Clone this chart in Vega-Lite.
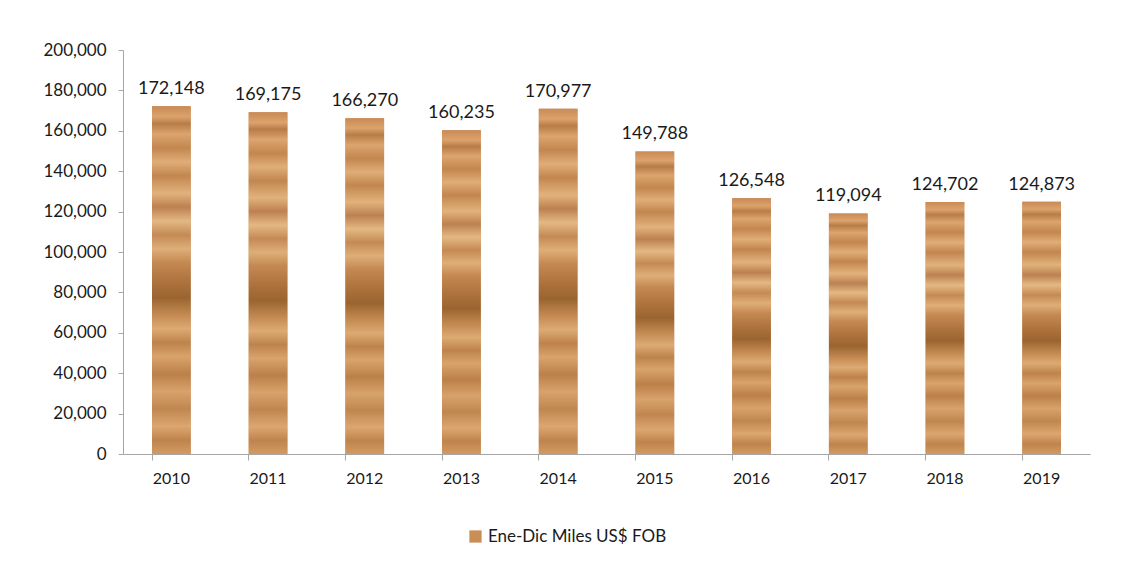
{
  "$schema": "https://vega.github.io/schema/vega-lite/v6.json",
  "width": 967,
  "height": 404,
  "autosize": {"type": "none"},
  "padding": {"left": 123, "top": 50, "right": 40, "bottom": 107},
  "background": "white",
  "config": {
    "view": {"stroke": null},
    "font": "Lato",
    "axis": {"domainColor": "#A6A6A6", "tickColor": "#A6A6A6", "labelColor": "#1a1a1a", "grid": false, "titleFontWeight": "normal"}
  },
  "data": {
    "values": [
      {"year": "2010", "value": 172148, "series": "Ene-Dic Miles US$ FOB"},
      {"year": "2011", "value": 169175, "series": "Ene-Dic Miles US$ FOB"},
      {"year": "2012", "value": 166270, "series": "Ene-Dic Miles US$ FOB"},
      {"year": "2013", "value": 160235, "series": "Ene-Dic Miles US$ FOB"},
      {"year": "2014", "value": 170977, "series": "Ene-Dic Miles US$ FOB"},
      {"year": "2015", "value": 149788, "series": "Ene-Dic Miles US$ FOB"},
      {"year": "2016", "value": 126548, "series": "Ene-Dic Miles US$ FOB"},
      {"year": "2017", "value": 119094, "series": "Ene-Dic Miles US$ FOB"},
      {"year": "2018", "value": 124702, "series": "Ene-Dic Miles US$ FOB"},
      {"year": "2019", "value": 124873, "series": "Ene-Dic Miles US$ FOB"}
    ]
  },
  "encoding": {
    "x": {
      "field": "year", "type": "ordinal",
      "scale": {"paddingInner": 0.6, "paddingOuter": 0.3},
      "axis": null
    },
    "y": {
      "field": "value", "type": "quantitative",
      "scale": {"domain": [0, 200000], "nice": false},
      "axis": {"values": [0, 20000, 40000, 60000, 80000, 100000, 120000, 140000, 160000, 180000, 200000], "format": ",d", "title": null, "labelFontSize": 17, "tickSize": 5, "labelPadding": 12}
    }
  },
  "layer": [
    {
      "mark": {"type": "bar"},
      "encoding": {
        "color": {
          "field": "series", "type": "nominal",
          "scale": {"range": ["#C98D58"]},
          "legend": {
            "orient": "none", "legendX": 344, "legendY": 478,
            "title": null, "symbolType": "square", "symbolSize": 150,
            "labelFontSize": 17, "labelLimit": 0, "labelColor": "#1a1a1a", "symbolStrokeWidth": 0
          }
        }
      }
    },
    {
      "mark": {
        "type": "bar",
        "color": {
          "gradient": "linear", "x1": 0, "y1": 0, "x2": 0, "y2": 1,
          "stops": [
            {"offset": 0, "color": "#C98A56"},
            {"offset": 0.03, "color": "#DCA26C"},
            {"offset": 0.05, "color": "#B87C48"},
            {"offset": 0.08, "color": "#DCA46E"},
            {"offset": 0.12, "color": "#C3864F"},
            {"offset": 0.16, "color": "#E0AD78"},
            {"offset": 0.2, "color": "#C28650"},
            {"offset": 0.25, "color": "#E2B27C"},
            {"offset": 0.29, "color": "#BC8150"},
            {"offset": 0.33, "color": "#E4B883"},
            {"offset": 0.37, "color": "#C48A55"},
            {"offset": 0.41, "color": "#DFAE78"},
            {"offset": 0.45, "color": "#C48852"},
            {"offset": 0.5, "color": "#B07440"},
            {"offset": 0.55, "color": "#9A6430"},
            {"offset": 0.6, "color": "#C48A52"},
            {"offset": 0.64, "color": "#DDAA74"},
            {"offset": 0.68, "color": "#BE834C"},
            {"offset": 0.72, "color": "#D9A36C"},
            {"offset": 0.77, "color": "#BC8049"},
            {"offset": 0.82, "color": "#D8A26C"},
            {"offset": 0.87, "color": "#C08650"},
            {"offset": 0.92, "color": "#DCA670"},
            {"offset": 0.96, "color": "#BF844E"},
            {"offset": 1, "color": "#D29A64"}
          ]
        }
      },
      "encoding": {}
    },
    {
      "mark": {"type": "text", "baseline": "bottom", "dy": -8, "fontSize": 18, "color": "#1a1a1a"},
      "encoding": {
        "text": {"field": "value", "type": "quantitative", "format": ",d"}
      }
    },
    {
      "mark": {"type": "rule", "opacity": 0},
      "encoding": {
        "x": {
          "field": "year", "type": "ordinal",
          "axis": {"orient": "bottom", "bandPosition": 0, "labels": false, "title": null, "tickSize": 6, "domain": true}
        }
      }
    },
    {
      "mark": {"type": "rule", "opacity": 0},
      "encoding": {
        "x": {
          "field": "year", "type": "ordinal",
          "axis": {"orient": "bottom", "labelAngle": 0, "ticks": false, "domain": false, "title": null, "labelFontSize": 16, "labelPadding": 16}
        }
      }
    }
  ],
  "resolve": {"axis": {"x": "independent"}}
}
